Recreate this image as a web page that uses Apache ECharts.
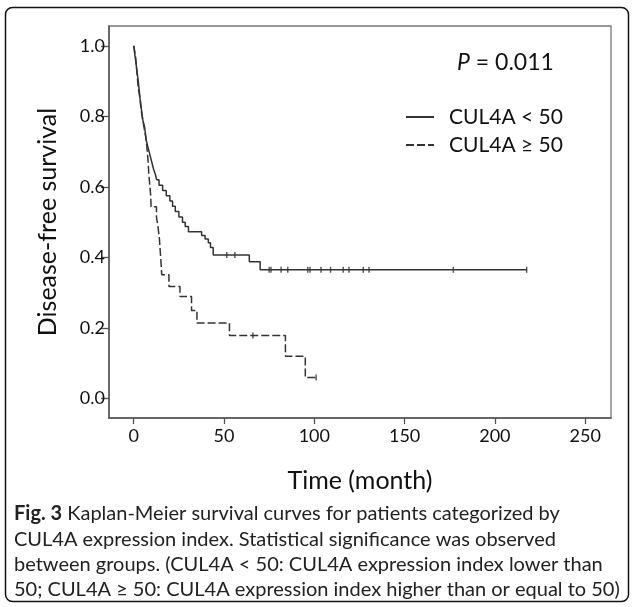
<!DOCTYPE html>
<html>
<head>
<meta charset="utf-8">
<script src="https://cdn.jsdelivr.net/npm/echarts@6/dist/echarts.min.js"></script>
<style>
html,body{margin:0;padding:0;background:#fff;}
#chart{width:635px;height:607px;}
</style>
</head>
<body>
<div id="chart"></div>
<script>
// ---- data ----
// CUL4A < 50 (solid) : event times (months) and survival after each step
const lowTime = [0, 0.5, 1, 1.5, 2, 2.5, 3, 3.5, 4, 4.5, 5, 6, 6.5, 7, 8, 9, 10, 11, 12, 12.7, 14, 16, 18, 20, 21.5, 23, 25, 27, 28.5, 30.3, 37.6, 39.5, 41.3, 42.5, 44, 64, 70, 217.6];
const lowSurv = [1.0, 0.98, 0.96, 0.94, 0.92, 0.90, 0.875, 0.85, 0.83, 0.81, 0.79, 0.77, 0.75, 0.73, 0.71, 0.69, 0.67, 0.65, 0.635, 0.62, 0.605, 0.59, 0.575, 0.56, 0.545, 0.53, 0.515, 0.50, 0.488, 0.473, 0.462, 0.452, 0.442, 0.428, 0.407, 0.388, 0.365, 0.365];
const lowCensorTime = [51.5, 56, 75, 76, 81.6, 85.3, 96.4, 97.6, 103.7, 109, 116, 119.2, 127.1, 130.3, 177, 217.6];
const lowCensorSurv = [0.407, 0.407, 0.365, 0.365, 0.365, 0.365, 0.365, 0.365, 0.365, 0.365, 0.365, 0.365, 0.365, 0.365, 0.365, 0.365];

// CUL4A >= 50 (dashed)
const highTime = [0, 1, 1.5, 2, 2.5, 3.5, 4, 5, 6, 7, 7.5, 8, 8.3, 9.4, 9.6, 12.6, 13.5, 14.2, 14.6, 15, 15.3, 15.5, 19.5, 25.6, 32, 35, 53, 84, 95, 101];
const highSurv = [1.0, 0.97, 0.94, 0.91, 0.88, 0.85, 0.82, 0.79, 0.76, 0.73, 0.70, 0.67, 0.64, 0.574, 0.544, 0.514, 0.484, 0.454, 0.424, 0.394, 0.37, 0.351, 0.318, 0.289, 0.25, 0.214, 0.179, 0.12, 0.06, 0.06];
const highCensorTime = [66, 101];
const highCensorSurv = [0.179, 0.06];

const xTicks = [0, 50, 100, 150, 200, 250];
const yTicks = [0.0, 0.2, 0.4, 0.6, 0.8, 1.0];
const seriesNames = ['CUL4A < 50', 'CUL4A \u2265 50'];
const pText = '0.011';
const xTitle = 'Time (month)';
const yTitle = 'Disease-free survival';
const captionLines = [
  '{b|Fig. 3} Kaplan-Meier survival curves for patients categorized by',
  'CUL4A expression index. Statistical significance was observed',
  'between groups. (CUL4A < 50: CUL4A expression index lower than',
  '50; CUL4A \u2265 50: CUL4A expression index higher than or equal to 50)'
];

const zip = (a, b) => a.map((v, i) => [v, b[i]]);
const FONT = 'Lato, "Open Sans", sans-serif';
const INK = '#333';

const chart = echarts.init(document.getElementById('chart'), null, {renderer: 'canvas'});

const captionGraphics = captionLines.map((t, i) => ({
  type: 'text',
  left: 14,
  top: 504 + i * 25.3,
  style: {
    text: t,
    fill: '#222',
    font: '20px ' + FONT,
    rich: { b: { fontWeight: 'bold', fontSize: 20, fontFamily: FONT, fill: '#222' } }
  }
}));

chart.setOption({
  animation: false,
  backgroundColor: '#fff',
  grid: { left: 109, top: 26, right: 24, bottom: 189, show: true, borderColor: '#777', borderWidth: 1.3 },
  xAxis: {
    type: 'value', min: -13.7, max: 264.3,
    name: xTitle, nameLocation: 'middle', nameGap: 50,
    nameTextStyle: { fontSize: 25, fontFamily: FONT, color: '#111' },
    axisLine: { show: true, onZero: false, lineStyle: { color: '#555', width: 1.5 } },
    axisTick: { show: true, length: 6, customValues: xTicks, lineStyle: { color: '#555', width: 1.3 } },
    axisLabel: { customValues: xTicks, fontSize: 18, fontFamily: FONT, color: '#111', margin: 9 },
    splitLine: { show: false }
  },
  yAxis: {
    type: 'value', min: -0.055, max: 1.056,
    name: yTitle, nameLocation: 'middle', nameGap: 49, nameRotate: 90,
    nameTextStyle: { fontSize: 25, fontFamily: FONT, color: '#111' },
    axisLine: { show: true, onZero: false, lineStyle: { color: '#555', width: 1.5 } },
    axisTick: { show: true, length: 8, customValues: yTicks, lineStyle: { color: '#555', width: 1.3 } },
    axisLabel: { customValues: yTicks, fontSize: 18, fontFamily: FONT, color: '#111', margin: 4,
      formatter: v => v.toFixed(1) },
    splitLine: { show: false }
  },
  legend: {
    orient: 'vertical', left: 405, top: 106, padding: 0,
    itemWidth: 28, itemHeight: 14, itemGap: 6,
    itemStyle: { opacity: 0 },
    data: seriesNames,
    textStyle: { fontSize: 21, fontFamily: FONT, color: '#111', lineHeight: 22, padding: [0, 0, 0, 10] }
  },
  graphic: [
    { type: 'rect', shape: { x: 5.5, y: 7.5, width: 623, height: 594, r: 7 },
      style: { fill: 'none', stroke: '#111', lineWidth: 1.5 }, z: 100 },
    { type: 'text', left: 457, top: 51,
      style: { text: '{i|P} = ' + pText, font: '23px ' + FONT, fill: '#111',
        rich: { i: { fontStyle: 'italic', fontSize: 23, fontFamily: FONT, fill: '#111' } } } },
    ...captionGraphics
  ],
  series: [
    { name: seriesNames[0], type: 'line', step: 'end', data: zip(lowTime, lowSurv),
      showSymbol: false, symbol: 'none', lineStyle: { color: INK, width: 1.5, type: 'solid' }, itemStyle: { color: INK } },
    { name: seriesNames[1], type: 'line', step: 'end', data: zip(highTime, highSurv),
      showSymbol: false, symbol: 'none', lineStyle: { color: INK, width: 1.5, type: [8, 3] }, itemStyle: { color: INK } },
    { type: 'scatter', data: zip(lowCensorTime, lowCensorSurv), symbol: 'rect', symbolSize: [1.5, 6],
      itemStyle: { color: INK }, silent: true },
    { type: 'scatter', data: zip(highCensorTime, highCensorSurv), symbol: 'rect', symbolSize: [1.5, 6],
      itemStyle: { color: INK }, silent: true }
  ]
});
</script>
</body>
</html>
